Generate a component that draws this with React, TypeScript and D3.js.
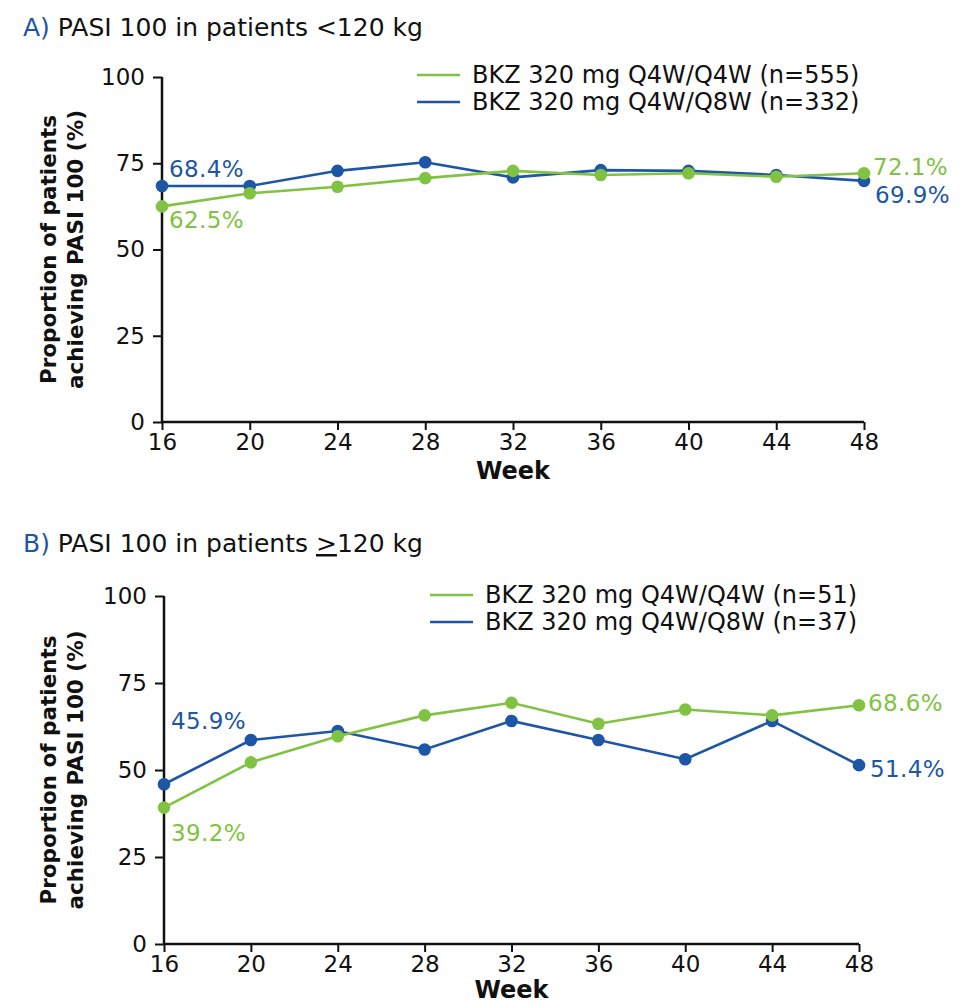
import React, { useRef, useEffect } from 'react';
import * as d3 from 'd3';

const weeks = [16, 20, 24, 28, 32, 36, 40, 44, 48];
const yTicks = [0, 25, 50, 75, 100];

// panel A: patients <120 kg
const aQ4W = [62.5, 66.3, 68.2, 70.7, 72.8, 71.6, 72.1, 71.1, 72.1];
const aQ8W = [68.4, 68.4, 72.8, 75.3, 70.9, 73.0, 72.8, 71.6, 69.9];
// panel B: patients >=120 kg
const bQ4W = [39.2, 52.2, 59.7, 65.7, 69.3, 63.3, 67.4, 65.7, 68.6];
const bQ8W = [45.9, 58.6, 61.2, 55.9, 64.1, 58.6, 53.1, 64.1, 51.4];

const GREEN = '#80c342';
const BLUE = '#1d56a5';
const FONT = '"DejaVu Sans", Verdana, sans-serif';

type PanelProps = {
  top: number;
  left: number;
  right: number;
  axisTop: number;
  axisBottom: number;
  letter: string;
  title: React.ReactNode;
  q4w: number[];
  q8w: number[];
  n4: number;
  n8: number;
  legendX: number;
  legendY: number;
  weekDy: number;
  labels: { first: [number, number]; last: [number, number] };
};

function Panel(p: PanelProps) {
  const gRef = useRef<SVGGElement>(null);
  const x = d3.scaleLinear().domain([16, 48]).range([p.left, p.right]);
  const y = d3.scaleLinear().domain([0, 100]).range([p.axisBottom, p.axisTop]);

  useEffect(() => {
    const g = d3.select(gRef.current);
    g.selectAll('*').remove();

    const yAxis = g
      .append('g')
      .attr('transform', `translate(${p.left},0)`)
      .call(d3.axisLeft(y).tickValues(yTicks).tickSize(9).tickSizeOuter(0).tickPadding(8));
    const xAxis = g
      .append('g')
      .attr('transform', `translate(0,${p.axisBottom})`)
      .call(d3.axisBottom(x).tickValues(weeks).tickSize(8).tickSizeOuter(0).tickPadding(4));

    [yAxis, xAxis].forEach((a) => {
      a.select('.domain').attr('stroke', '#111').attr('stroke-width', 2.5);
      a.selectAll('.tick line').attr('stroke', '#111').attr('stroke-width', 2);
      a.selectAll('.tick text')
        .attr('fill', '#111')
        .attr('font-size', 23)
        .attr('font-family', FONT);
    });
    // let the two axis lines meet at the corner
    yAxis.select('.domain').attr('d', `M0,${p.axisTop}V${p.axisBottom + 1}`);
    xAxis.select('.domain').attr('d', `M${p.left - 1},0H${p.right}`);

    const line = d3
      .line<number>()
      .x((_, i) => x(weeks[i]))
      .y((d) => y(d));

    const series = [
      { data: p.q4w, color: GREEN },
      { data: p.q8w, color: BLUE },
    ];
    // blue first, green on top
    [series[1], series[0]].forEach((s) => {
      const sg = g.append('g');
      sg.append('path')
        .attr('d', line(s.data))
        .attr('fill', 'none')
        .attr('stroke', s.color)
        .attr('stroke-width', 2.6);
      sg.selectAll('circle')
        .data(s.data)
        .enter()
        .append('circle')
        .attr('cx', (_, i) => x(weeks[i]))
        .attr('cy', (d) => y(d))
        .attr('r', 6.3)
        .attr('fill', s.color);
    });
  }, []);

  const first4 = p.q4w[0];
  const first8 = p.q8w[0];
  const last4 = p.q4w[p.q4w.length - 1];
  const last8 = p.q8w[p.q8w.length - 1];
  const midY = (p.axisTop + p.axisBottom) / 2;

  return (
    <g fontFamily={FONT}>
      <text x={23} y={p.top} fontSize={25} fill="#111">
        <tspan fill={BLUE}>{p.letter}</tspan> {p.title}
      </text>

      <g fontSize={24} fill="#111">
        <line x1={p.legendX} x2={p.legendX + 43} y1={p.legendY} y2={p.legendY} stroke={GREEN} strokeWidth={2.6} />
        <text x={p.legendX + 55} y={p.legendY + 8}>BKZ 320 mg Q4W/Q4W (n={p.n4})</text>
        <line x1={p.legendX} x2={p.legendX + 43} y1={p.legendY + 27} y2={p.legendY + 27} stroke={BLUE} strokeWidth={2.6} />
        <text x={p.legendX + 55} y={p.legendY + 35}>BKZ 320 mg Q4W/Q8W (n={p.n8})</text>
      </g>

      <g transform={`translate(56,${midY}) rotate(-90)`} fontSize={21.5} fontWeight={700} fill="#111" textAnchor="middle">
        <text x={0} y={0}>Proportion of patients</text>
        <text x={0} y={27}>achieving PASI 100 (%)</text>
      </g>

      <g ref={gRef} />

      <text x={(p.left + p.right) / 2} y={p.axisBottom + p.weekDy} fontSize={24} fontWeight={700} fill="#111" textAnchor="middle">
        Week
      </text>

      <g fontSize={23} letterSpacing={0.4}>
        <text x={x(16) + 7} y={y(first8) + p.labels.first[1]} fill={BLUE}>{first8.toFixed(1)}%</text>
        <text x={x(16) + 7} y={y(first4) + p.labels.first[0]} fill={GREEN}>{first4.toFixed(1)}%</text>
        <text x={x(48) + 9} y={y(last4) + p.labels.last[0]} fill={GREEN}>{last4.toFixed(1)}%</text>
        <text x={x(48) + 11} y={y(last8) + p.labels.last[1]} fill={BLUE}>{last8.toFixed(1)}%</text>
      </g>
    </g>
  );
}

export default function App() {
  return (
    <svg
      width={974}
      height={1004}
      style={{ position: 'absolute', left: 0, top: 0, background: '#fff' }}
    >
      <Panel
        top={36}
        left={162}
        right={864}
        axisTop={77}
        axisBottom={422}
        letter="A)"
        title="PASI 100 in patients <120 kg"
        q4w={aQ4W}
        q8w={aQ8W}
        n4={555}
        n8={332}
        legendX={417}
        legendY={75}
        weekDy={57}
        labels={{ first: [22, -9], last: [2, 22] }}
      />
      <Panel
        top={552}
        left={164}
        right={859}
        axisTop={596}
        axisBottom={944}
        letter="B)"
        title={
          <>
            PASI 100 in patients <tspan textDecoration="underline">&gt;</tspan>120 kg
          </>
        }
        q4w={bQ4W}
        q8w={bQ8W}
        n4={51}
        n8={37}
        legendX={430}
        legendY={595}
        weekDy={54}
        labels={{ first: [33, -55], last: [6, 12] }}
      />
    </svg>
  );
}
